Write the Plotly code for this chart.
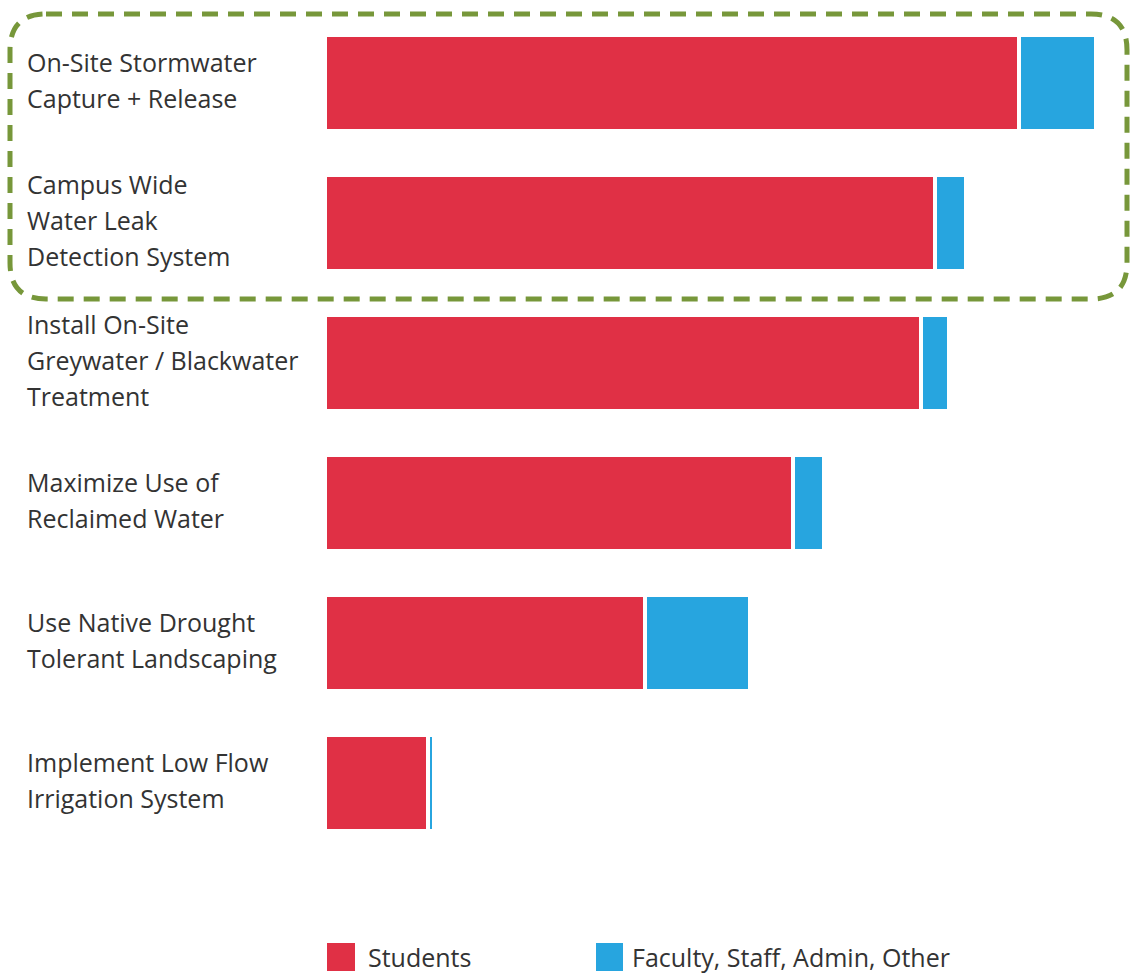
import plotly.graph_objects as go

categories = [
    "On-Site Stormwater<br>Capture + Release",
    "Campus Wide<br>Water Leak<br>Detection System",
    "Install On-Site<br>Greywater / Blackwater<br>Treatment",
    "Maximize Use of<br>Reclaimed Water",
    "Use Native Drought<br>Tolerant Landscaping",
    "Implement Low Flow<br>Irrigation System",
]
students = [694, 610, 596, 468, 320, 103]
faculty = [77, 31, 28, 31, 105, 6]
series_names = ["Students", "Faculty, Staff, Admin, Other"]
colors = ["#E03045", "#27A5DF"]

W, H = 1131, 977
ML, MR, MT, MB = 325, 6, 13, 124
PW, PH = W - ML - MR, H - MT - MB


def px_x(px):
    return (px - ML) / PW


def px_y(py):
    return (H - MB - py) / PH


fig = go.Figure()
for name, vals, col in zip(series_names, [students, faculty], colors):
    fig.add_trace(go.Bar(
        y=categories, x=vals, orientation="h", name=name,
        marker=dict(color=col, line=dict(color="white", width=4)),
        width=0.69, showlegend=False, hoverinfo="x+name",
    ))

font = dict(family="Open Sans, Lato, sans-serif", size=25, color="#333333")

annotations = []
LINE = 36
for cat in categories:
    lines = cat.split("<br>")
    n = len(lines)
    for i, ln in enumerate(lines):
        annotations.append(dict(
            x=px_x(25), xref="paper", y=cat, yref="y", text=ln,
            showarrow=False, xanchor="left", yanchor="middle", align="left",
            yshift=-(i - (n - 1) / 2) * LINE + 3,
            font=font,
        ))

# custom legend
shapes = []
legend_items = [(327, 355, 366), (596, 623, 630)]
for (x0, x1, tx), name, col in zip(legend_items, series_names, colors):
    shapes.append(dict(type="rect", xref="paper", yref="paper",
                       x0=px_x(x0), x1=px_x(x1), y0=px_y(971), y1=px_y(943),
                       fillcolor=col, line=dict(width=0)))
    annotations.append(dict(x=px_x(tx), xref="paper", y=px_y(957), yref="paper",
                            text=name, showarrow=False, xanchor="left",
                            yanchor="middle", font=font))

# dashed rounded highlight box (pixel geometry)
L, R, T, B, r = 10, 1127, 14, 299, 36
path = (
    f"M {px_x(L + r)},{px_y(T)} L {px_x(R - r)},{px_y(T)} "
    f"Q {px_x(R)},{px_y(T)} {px_x(R)},{px_y(T + r)} "
    f"L {px_x(R)},{px_y(B - r)} "
    f"Q {px_x(R)},{px_y(B)} {px_x(R - r)},{px_y(B)} "
    f"L {px_x(L + r)},{px_y(B)} "
    f"Q {px_x(L)},{px_y(B)} {px_x(L)},{px_y(B - r)} "
    f"L {px_x(L)},{px_y(T + r)} "
    f"Q {px_x(L)},{px_y(T)} {px_x(L + r)},{px_y(T)} Z"
)
shapes.append(dict(type="path", xref="paper", yref="paper", path=path,
                   line=dict(color="#77973A", width=5, dash="16px,10px"),
                   fillcolor="rgba(0,0,0,0)"))

fig.update_layout(
    width=W, height=H,
    margin=dict(l=ML, r=MR, t=MT, b=MB),
    barmode="stack",
    bargap=0.3,
    plot_bgcolor="white", paper_bgcolor="white",
    xaxis=dict(range=[0, PW], visible=False, fixedrange=True),
    yaxis=dict(autorange="reversed", showticklabels=False, showgrid=False,
               zeroline=False, showline=False, ticks=""),
    annotations=annotations,
    shapes=shapes,
)

fig.write_html("out.html",
               config={"displayModeBar": False},
               post_script="document.body.style.margin='0px';document.body.style.overflow='hidden';")
